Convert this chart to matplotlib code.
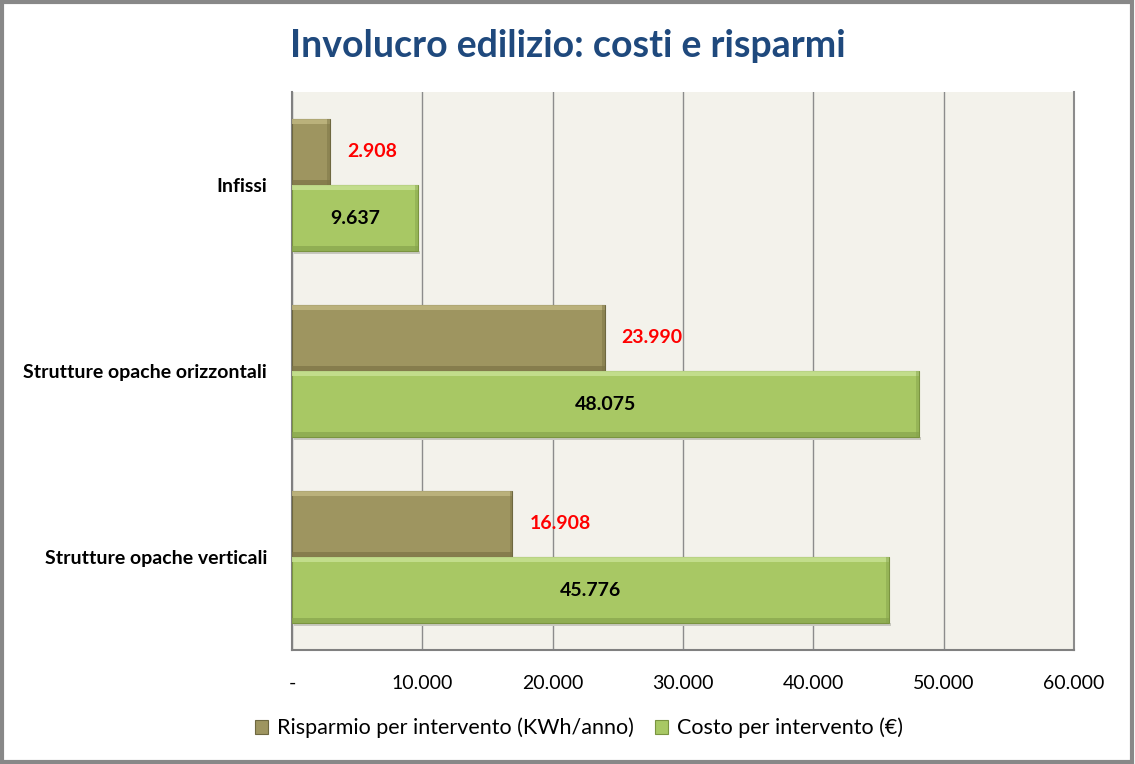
import matplotlib
matplotlib.use("Agg")
import matplotlib.pyplot as plt
from matplotlib.patches import Rectangle
from matplotlib.ticker import FuncFormatter
import numpy as np

categories = ["Strutture opache verticali", "Strutture opache orizzontali", "Infissi"]
risparmio = [16908, 23990, 2908]
costo = [45776, 48075, 9637]
series_names = ["Risparmio per intervento (KWh/anno)", "Costo per intervento (€)"]
title = "Involucro edilizio: costi e risparmi"
xticks = [0, 10000, 20000, 30000, 40000, 50000, 60000]

plt.rcParams['font.family'] = ['Lato', 'DejaVu Sans']

fig = plt.figure(figsize=(11.35, 7.64), dpi=100)
fig.patches.append(Rectangle((0.002, 0.003), 0.995, 0.994, transform=fig.transFigure,
                             fill=False, edgecolor='#888888', linewidth=3))
ax = fig.add_axes([0.2573, 0.1492, 0.689, 0.7304])
ax.set_facecolor('#F3F2EB')

y = np.arange(len(categories))
h = 0.355
brown = '#9E9560'
green = '#A8C864'
b1 = ax.barh(y + h / 2, risparmio, height=h, color=brown, edgecolor='#6E6840', linewidth=0.8, zorder=3)
b2 = ax.barh(y - h / 2, costo, height=h, color=green, edgecolor='#7A9440', linewidth=0.8, zorder=3)

# subtle bevel highlights
for bars, light, dark in [(b1, '#C2B983', '#7C7446'), (b2, '#C9E396', '#86A44C')]:
    for p in bars:
        x0, y0, w, hh = p.get_x(), p.get_y(), p.get_width(), p.get_height()
        ax.add_patch(Rectangle((x0, y0 + hh * 0.92), w, hh * 0.08, color=light, zorder=4, lw=0, alpha=0.8))
        ax.add_patch(Rectangle((x0, y0), w, hh * 0.07, color=dark, zorder=4, lw=0, alpha=0.7))
        ax.add_patch(Rectangle((x0 + w - 220, y0), 220, hh, color=dark, zorder=4, lw=0, alpha=0.5))
        # shadow
        ax.add_patch(Rectangle((x0 + 150, y0 - 0.015), w, 0.015, color='#C8C8C0', zorder=2, lw=0))

for v, yy in zip(risparmio, y + h / 2):
    ax.text(v + 1300, yy, f"{v:,}".replace(",", "."), color='red', fontsize=14, fontweight='bold',
            va='center', ha='left', zorder=5)
for v, yy in zip(costo, y - h / 2):
    ax.text(v / 2, yy, f"{v:,}".replace(",", "."), color='black', fontsize=14, fontweight='bold',
            va='center', ha='center', zorder=5)

ax.set_xlim(0, 60000)
ax.set_ylim(-0.5, 2.5)
ax.set_xticks(xticks)
ax.xaxis.set_major_formatter(FuncFormatter(lambda v, p: "-" if v == 0 else f"{int(v):,}".replace(",", ".")))
ax.set_yticks(y)
ax.set_yticklabels(categories, fontsize=14, fontweight='bold')
ax.tick_params(axis='x', length=0, labelsize=14, pad=18)
ax.tick_params(axis='y', length=0, pad=18)
ax.grid(axis='x', color='#8C8C8C', linewidth=1, zorder=1)
ax.axvline(60000, color='#8C8C8C', linewidth=1.5, clip_on=False, zorder=1)
for s in ['top', 'right']:
    ax.spines[s].set_visible(False)
for s in ['left', 'bottom']:
    ax.spines[s].set_color('#808080')
    ax.spines[s].set_linewidth(1.5)

fig.text(0.5, 0.94, title, ha='center', va='center', fontsize=27, fontweight='bold', color='#1F497D')

leg = fig.legend([b1, b2], series_names, loc='center', bbox_to_anchor=(0.51, 0.047), ncol=2,
                 frameon=False, fontsize=15.5, handlelength=0.6, handleheight=0.6, handletextpad=0.4,
                 columnspacing=1.0)

fig.savefig("out.png", dpi=100)
